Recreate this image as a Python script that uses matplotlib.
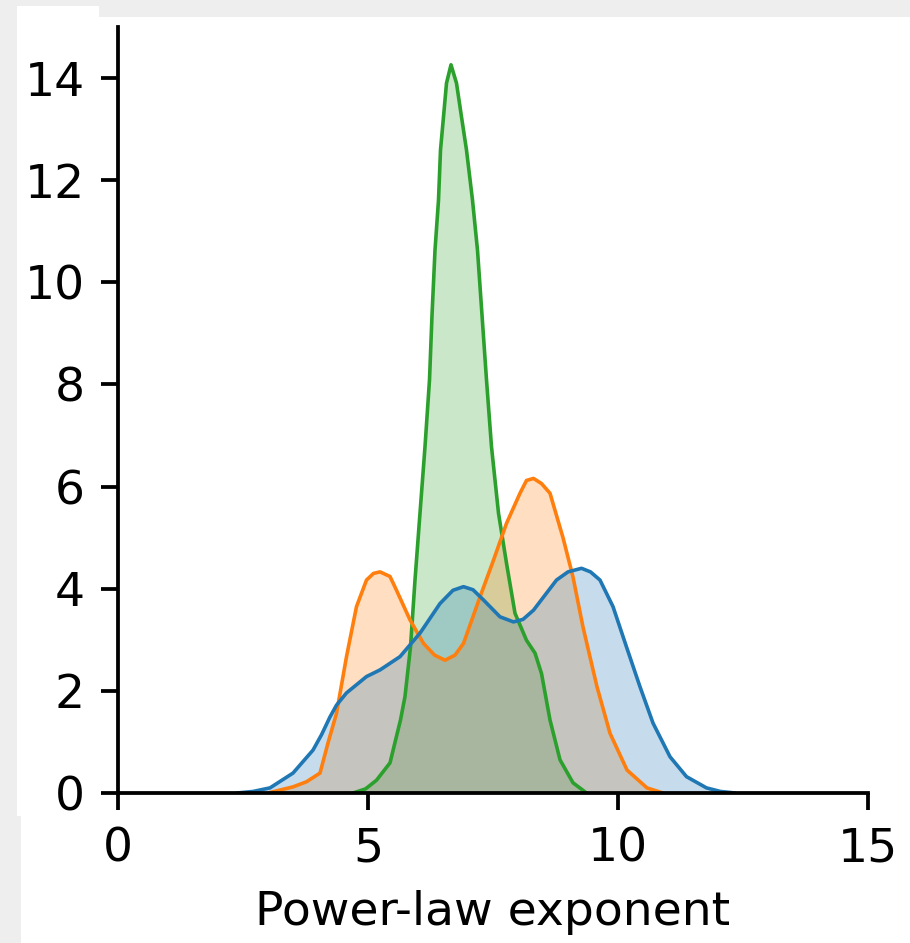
import matplotlib
matplotlib.use("Agg")
import matplotlib.pyplot as plt
from matplotlib.patches import Rectangle

# ---- data (KDE curves: x positions and densities) ----
blue_x = [2.38, 2.70, 3.04, 3.50, 3.90, 4.07, 4.24, 4.37, 4.57, 4.97, 5.24, 5.64, 6.04,
          6.44, 6.70, 6.91, 7.10, 7.31, 7.64, 7.91, 8.10, 8.31, 8.77, 9.00, 9.27, 9.45,
          9.64, 9.90, 10.17, 10.44, 10.70, 11.04, 11.37, 11.77, 12.05, 12.34]
blue_y = [0.00, 0.03, 0.10, 0.39, 0.84, 1.14, 1.49, 1.72, 1.96, 2.28, 2.41, 2.67, 3.13,
          3.71, 3.97, 4.04, 3.98, 3.78, 3.45, 3.35, 3.40, 3.58, 4.17, 4.33, 4.40, 4.33,
          4.17, 3.65, 2.86, 2.08, 1.37, 0.71, 0.32, 0.10, 0.03, 0.00]

orange_x = [3.00, 3.50, 3.77, 4.04, 4.20, 4.37, 4.57, 4.77, 4.97, 5.11, 5.24, 5.44, 5.57,
            5.84, 6.11, 6.33, 6.54, 6.74, 6.91, 7.24, 7.51, 7.77, 8.04, 8.17, 8.31, 8.47,
            8.64, 8.90, 9.10, 9.30, 9.58, 9.84, 10.18, 10.58, 10.90]
orange_y = [0.00, 0.12, 0.22, 0.39, 0.98, 1.56, 2.67, 3.65, 4.17, 4.30, 4.33, 4.24, 3.97,
            3.39, 2.93, 2.70, 2.60, 2.70, 2.93, 3.84, 4.56, 5.28, 5.87, 6.12, 6.16, 6.06,
            5.87, 5.00, 4.23, 3.25, 2.08, 1.17, 0.45, 0.10, 0.00]

green_x = [4.70, 4.95, 5.17, 5.44, 5.65, 5.74, 5.85, 5.94, 6.04, 6.14, 6.23, 6.28, 6.34,
           6.41, 6.45, 6.51, 6.57, 6.66, 6.77, 6.87, 6.97, 7.09, 7.19, 7.37, 7.47, 7.61,
           7.77, 7.94, 8.17, 8.34, 8.47, 8.64, 8.84, 9.10, 9.37]
green_y = [0.00, 0.08, 0.25, 0.59, 1.43, 1.89, 2.86, 4.17, 5.48, 6.78, 8.09, 9.35, 10.63,
           11.61, 12.59, 13.24, 13.90, 14.26, 13.90, 13.24, 12.59, 11.61, 10.63, 8.09,
           6.78, 5.48, 4.50, 3.52, 2.99, 2.74, 2.34, 1.43, 0.65, 0.20, 0.00]

x_ticks = [0, 5, 10, 15]
y_ticks = [0, 2, 4, 6, 8, 10, 12, 14]
x_label = "Power-law exponent"

series = [
    (green_x, green_y, "#2ca02c"),
    (orange_x, orange_y, "#ff7f0e"),
    (blue_x, blue_y, "#1f77b4"),
]

# ---- figure ----
W, H = 910, 943
s = 3.4
plt.rcParams.update({
    "font.family": "DejaVu Sans",
    "font.size": 34,
    "axes.linewidth": 0.8 * s,
    "xtick.major.size": 3.5 * s,
    "ytick.major.size": 3.5 * s,
    "xtick.major.width": 0.8 * s,
    "ytick.major.width": 0.8 * s,
    "xtick.major.pad": 3.5 * s,
    "ytick.major.pad": 3.5 * s,
    "axes.labelpad": 4.0 * s,
})

fig = plt.figure(figsize=(W / 100, H / 100), dpi=100, facecolor="white")
ax = fig.add_axes([118 / W, 1 - 793 / H, 750 / W, 766 / H])

for xs, ys, c in series:
    ax.fill_between(xs, ys, 0, color=c, alpha=0.25, linewidth=0)
    ax.plot(xs, ys, color=c, linewidth=2.6, solid_joinstyle="round",
            solid_capstyle="round")

ax.set_xlim(0, 15)
ax.set_ylim(0, 15)
ax.set_xticks(x_ticks)
ax.set_yticks(y_ticks)
ax.set_xlabel(x_label)
ax.spines["top"].set_visible(False)
ax.spines["right"].set_visible(False)

# ---- screenshot framing (gray borders, pasted strip) ----
gray = "#eeeeee"

def rect_px(x0, y0, x1, y1, color, z=10):
    # pixel coordinates measured from the top-left corner
    fig.add_artist(Rectangle((x0 / W, 1 - y1 / H), (x1 - x0) / W, (y1 - y0) / H,
                             transform=fig.transFigure, facecolor=color,
                             edgecolor="none", zorder=z))

rect_px(0, 0, W, 17, gray)
rect_px(17, 6, 99, 17, "white", z=11)
rect_px(0, 0, 17, 816, gray)
rect_px(0, 816, 21, H, gray)
rect_px(21, 816, 101.7, H, "white", z=11)

fig.savefig("out.png", dpi=100, facecolor="white")
